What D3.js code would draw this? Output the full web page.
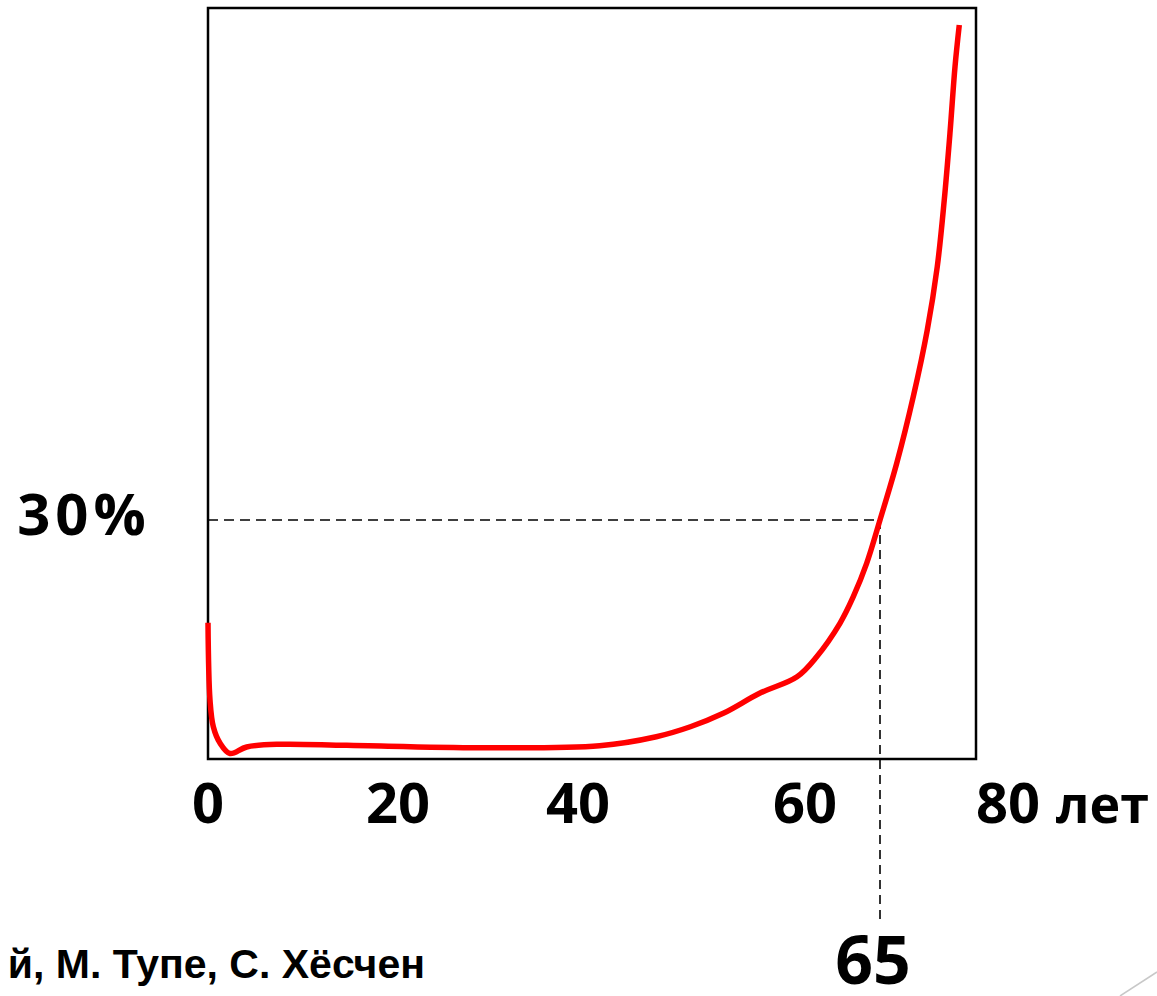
<!DOCTYPE html>
<html>
<head>
<meta charset="utf-8">
<script src="https://cdnjs.cloudflare.com/ajax/libs/d3/7.8.5/d3.min.js"></script>
<style>
  body { margin: 0; background: #fff; overflow: hidden; }
  svg { display: block; }
</style>
</head>
<body>
<div id="container"></div>
<script>
  // curve: age in years, risk in %
  var ages = [0, 0.21, 0.56, 1.26, 2.32, 4.07, 7.58, 14.6, 29.1, 41.9,
              46.9, 49.9, 52.8, 56.0, 59.3, 60.78, 62.33, 63.22, 64.11, 65,
              66.96, 68.9, 70.54, 71.71, 72.53, 73.2, 73.79, 74.29];
  var risk = [17.11, 7.41, 4.05, 2.01, 0.69, 1.51, 1.85, 1.72, 1.42, 1.67,
              2.80, 4.05, 5.74, 8.25, 10.33, 12.84, 17.03, 20.37, 24.56, 30.0,
              37.12, 45.48, 53.85, 61.79, 70.16, 78.57, 86.90, 92.13];

  var tickAges = [0, 20, 40, 60, 80];
  var tickUnit = "лет";
  var markAge = 65;      // dashed marker
  var markRisk = 30;
  var credit = "й, М. Тупе, С. Хёсчен";

  var width = 1157, height = 996;
  var plotLeft = 208, plotTop = 8, plotRight = 976, plotBottom = 759;
  var comic = '"Comic Sans MS", "Open Sans", sans-serif';

  var svg = d3.select('#container').append('svg')
      .attr('width', width)
      .attr('height', height);

  // the slide's age axis isn't evenly spaced, so the scale is piecewise
  var x = d3.scaleLinear()
      .domain([0, 20, 40, 60, 65, 80])
      .range([plotLeft, 398, 578, 805, 880, 1008]);

  var y = d3.scaleLinear()
      .domain([0, 30])
      .range([plotBottom, 520]);

  var data = ages.map(function (a, i) { return { age: a, risk: risk[i] }; });

  // dashed guides to 65 / 30%
  svg.append('line')
      .attr('x1', x(0)).attr('x2', x(markAge))
      .attr('y1', y(markRisk)).attr('y2', y(markRisk))
      .attr('stroke', '#000').attr('stroke-width', 1.6)
      .attr('stroke-dasharray', '10,6');

  svg.append('line')
      .attr('x1', x(markAge)).attr('x2', x(markAge))
      .attr('y1', y(markRisk)).attr('y2', 920)
      .attr('stroke', '#000').attr('stroke-width', 1.6)
      .attr('stroke-dasharray', '9,6');

  // frame
  svg.append('rect')
      .attr('x', plotLeft).attr('y', plotTop)
      .attr('width', plotRight - plotLeft)
      .attr('height', plotBottom - plotTop)
      .attr('fill', 'none')
      .attr('stroke', '#000')
      .attr('stroke-width', 2.5);

  var line = d3.line()
      .x(function (d) { return x(d.age); })
      .y(function (d) { return y(d.risk); })
      .curve(d3.curveCatmullRom.alpha(0.5));

  svg.append('path')
      .datum(data)
      .attr('d', line)
      .attr('fill', 'none')
      .attr('stroke', '#ff0000')
      .attr('stroke-width', 5.5)
      .attr('stroke-linejoin', 'round');

  // age labels
  var ticks = svg.selectAll('.tick-label')
      .data(tickAges).enter()
      .append('text')
      .attr('class', 'tick-label')
      .attr('x', function (d) { return x(d); })
      .attr('y', 823)
      .attr('text-anchor', 'middle')
      .style('font-family', comic)
      .style('font-weight', 'bold')
      .style('font-size', '56px')
      .text(function (d) { return d; });

  var last = ticks.filter(function (d, i) { return i == tickAges.length - 1; });
  var lastW = last.node().getComputedTextLength();
  svg.append('text')
      .attr('x', x(tickAges[tickAges.length - 1]) + lastW / 2 + 16)
      .attr('y', 823)
      .style('font-family', comic)
      .style('font-weight', 'bold')
      .style('font-size', '52px')
      .text(tickUnit);

  svg.append('text')
      .attr('x', 84)
      .attr('y', y(markRisk) + 15)
      .attr('text-anchor', 'middle')
      .style('font-family', comic)
      .style('font-weight', 'bold')
      .style('font-size', '58px')
      .style('letter-spacing', '5px')
      .text(markRisk + '%');

  svg.append('text')
      .attr('x', x(markAge) - 7)
      .attr('y', 984)
      .attr('text-anchor', 'middle')
      .style('font-family', comic)
      .style('font-weight', 'bold')
      .style('font-size', '66px')
      .text(markAge);

  svg.append('text')
      .attr('x', 425)
      .attr('y', 978)
      .attr('text-anchor', 'end')
      .style('font-family', '"Liberation Sans", Arial, sans-serif')
      .style('font-weight', 'bold')
      .style('font-size', '41px')
      .text(credit);

  // slide corner decoration
  svg.append('line')
      .attr('x1', 1120).attr('y1', 996)
      .attr('x2', 1157).attr('y2', 972)
      .attr('stroke', '#c8c8c8')
      .attr('stroke-width', 1.5);
</script>
</body>
</html>
